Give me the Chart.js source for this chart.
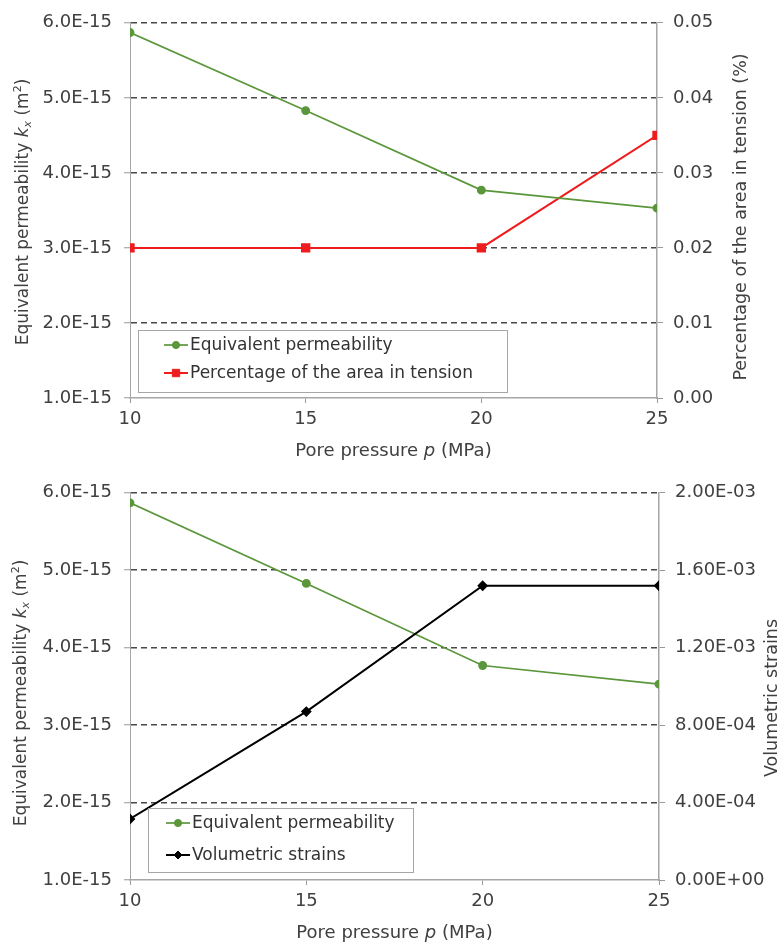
<!DOCTYPE html>
<html><head><meta charset="utf-8">
<script src="https://cdn.jsdelivr.net/npm/chart.js@4.4.1/dist/chart.umd.min.js"></script>
<style>
html,body{margin:0;padding:0;background:#fff;}
#wrap{position:relative;width:780px;height:946px;overflow:hidden;background:#fff;}
canvas{position:absolute;left:0;}
#c1{top:0;} #c2{top:470px;}
</style></head><body>
<div id="wrap"><canvas id="c1" width="780" height="470"></canvas><canvas id="c2" width="780" height="476"></canvas></div>
<script>
// ---- data ----
const porePressure = [10, 15, 20, 25];
const permeability = [5.87e-15, 4.83e-15, 3.77e-15, 3.53e-15];
const tensionPct = [0.02, 0.02, 0.02, 0.035];
const volStrain = [3.15e-4, 8.7e-4, 1.52e-3, 1.52e-3];
const xTicks = [10, 15, 20, 25];
const permTicks = [1e-15, 2e-15, 3e-15, 4e-15, 5e-15, 6e-15];
const pctTicks = [0, 0.01, 0.02, 0.03, 0.04, 0.05];
const strainTicks = [0, 4e-4, 8e-4, 1.2e-3, 1.6e-3, 2e-3];
const seriesNames = ['Equivalent permeability', 'Percentage of the area in tension', 'Volumetric strains'];

const FONT = 'DejaVu Sans';
const TXT = '#404040';
const GREEN = '#5a963a', RED = '#ee1c1c', BLACK = '#000000';
const AXIS = '#a6a6a6';

const fmtPerm = v => v.toExponential(1).toUpperCase();
const fmtPct = v => v.toFixed(2);
const fmtStrain = v => { const p = v.toExponential(2).split('e'); const n = parseInt(p[1], 10); return p[0] + 'E' + (n < 0 ? '-' : '+') + String(Math.abs(n)).padStart(2, '0'); };
const pts = (ys) => porePressure.map((x, i) => ({x: x, y: ys[i]}));
const setTicks = arr => (s => { s.ticks = arr.map(v => ({value: v})); });

function drawSegs(ctx, segs, cx, cy, rot) {
  ctx.save();
  ctx.translate(cx, cy);
  if (rot) ctx.rotate(rot);
  let total = 0;
  segs.forEach(s => { ctx.font = s.f; s.w = ctx.measureText(s.t).width; total += s.w; });
  let x = -total / 2;
  ctx.textAlign = 'left'; ctx.textBaseline = 'alphabetic'; ctx.fillStyle = TXT;
  segs.forEach(s => { ctx.font = s.f; ctx.fillText(s.t, x, 6 + (s.dy || 0)); x += s.w; });
  ctx.restore();
}

function marker(ctx, style, x, y, r, color) {
  ctx.save(); ctx.fillStyle = color; ctx.strokeStyle = color; ctx.lineWidth = 1;
  ctx.beginPath();
  if (style === 'circle') ctx.arc(x, y, r, 0, Math.PI * 2);
  else if (style === 'rect') { const s = r * Math.SQRT1_2; ctx.rect(x - s, y - s, 2 * s, 2 * s); }
  else { ctx.moveTo(x, y - r); ctx.lineTo(x + r, y); ctx.lineTo(x, y + r); ctx.lineTo(x - r, y); ctx.closePath(); }
  ctx.fill(); ctx.stroke(); ctx.restore();
}

const decor = {
  id: 'decor',
  afterDraw(chart, args, o) {
    const ctx = chart.ctx;
    const ca = chart.chartArea;
    // left title
    drawSegs(ctx, [
      {t: 'Equivalent permeability ', f: '17px "' + FONT + '"'},
      {t: 'k', f: 'italic 17px "' + FONT + '"'},
      {t: 'x', f: 'italic 11px "' + FONT + '"', dy: 3},
      {t: ' (m', f: '17px "' + FONT + '"'},
      {t: '2', f: '11px "' + FONT + '"', dy: -7},
      {t: ')', f: '17px "' + FONT + '"'}
    ], o.leftX, o.leftY, -Math.PI / 2);
    // right title
    drawSegs(ctx, [{t: o.rightTitle, f: '17.5px "' + FONT + '"'}], o.rightX, o.rightY, -Math.PI / 2);
    // x title
    drawSegs(ctx, [
      {t: 'Pore pressure ', f: '18px "' + FONT + '"'},
      {t: 'p', f: 'italic 18px "' + FONT + '"'},
      {t: ' (MPa)', f: '18px "' + FONT + '"'}
    ], (ca.left + ca.right) / 2, o.xTitleY, 0);
    // legend box
    const L = o.legend;
    ctx.save();
    ctx.fillStyle = '#fff'; ctx.fillRect(L.x1, L.y1, L.x2 - L.x1, L.y2 - L.y1);
    ctx.strokeStyle = AXIS; ctx.lineWidth = 1;
    ctx.strokeRect(L.x1 + 0.5, L.y1 + 0.5, L.x2 - L.x1, L.y2 - L.y1);
    chart.data.datasets.forEach((ds, i) => {
      const y = L.rows[i];
      ctx.strokeStyle = ds.borderColor; ctx.lineWidth = ds.borderWidth;
      ctx.beginPath(); ctx.moveTo(L.lx1, y); ctx.lineTo(L.lx2, y); ctx.stroke();
      marker(ctx, ds.pointStyle, (L.lx1 + L.lx2) / 2, y, ds.pointRadius, ds.borderColor);
      ctx.fillStyle = '#333'; ctx.font = '17px "' + FONT + '"';
      ctx.textAlign = 'left'; ctx.textBaseline = 'middle';
      ctx.fillText(ds.label, L.tx, y + 1);
    });
    ctx.restore();
  }
};

function yLeft() {
  return {
    type: 'linear', position: 'left', min: 1e-15, max: 6e-15,
    afterBuildTicks: setTicks(permTicks),
    afterFit: s => { s.width = 130; },
    ticks: {callback: v => fmtPerm(v), color: TXT, font: {family: FONT, size: 18}, padding: 12},
    grid: {
      color: c => (c.tick && c.tick.value <= 1.01e-15) ? 'rgba(0,0,0,0)' : '#484848',
      lineWidth: 1.5, drawTicks: true, tickLength: 6, tickColor: '#999', tickBorderDash: [], tickWidth: 1
    },
    border: {display: true, color: AXIS, width: 1, dash: [6, 4]}
  };
}
function yRight(min, max, ticks, fmt, w) {
  return {
    type: 'linear', position: 'right', min: min, max: max,
    afterBuildTicks: setTicks(ticks),
    afterFit: s => { s.width = w; },
    ticks: {callback: v => fmt(v), color: TXT, font: {family: FONT, size: 18}, padding: 10},
    grid: {drawOnChartArea: false, drawTicks: true, tickLength: 6, tickColor: '#999', color: '#999'},
    border: {display: true, color: AXIS, width: 1.5}
  };
}
function xAxis(h) {
  return {
    type: 'linear', position: 'bottom', min: 10, max: 25,
    afterBuildTicks: setTicks(xTicks),
    afterFit: s => { s.height = h; },
    ticks: {color: TXT, font: {family: FONT, size: 18}, padding: 6},
    grid: {drawOnChartArea: false, drawTicks: true, tickLength: 5, tickColor: '#999', color: '#999'},
    border: {display: true, color: AXIS, width: 1.5}
  };
}

const common = {
  responsive: false, animation: false, devicePixelRatio: 1,
  elements: {line: {tension: 0}},
  plugins: {legend: {display: false}, tooltip: {enabled: false}}
};

new Chart(document.getElementById('c1'), {
  type: 'line',
  data: {datasets: [
    {label: seriesNames[0], data: pts(permeability), yAxisID: 'y', borderColor: GREEN, backgroundColor: GREEN, borderWidth: 1.7, pointStyle: 'circle', pointRadius: 3.6, order: 1},
    {label: seriesNames[1], data: pts(tensionPct), yAxisID: 'y1', borderColor: RED, backgroundColor: RED, borderWidth: 2, pointStyle: 'rect', pointRadius: 5.2, order: 2}
  ]},
  options: Object.assign({}, common, {
    layout: {padding: {top: 19, left: 0, right: 0, bottom: 0}},
    scales: {x: xAxis(72), y: yLeft(), y1: yRight(0, 0.05, pctTicks, fmtPct, 123)},
    plugins: Object.assign({}, common.plugins, {decor: {
      leftX: 22, leftY: 212, rightX: 740, rightY: 217, xTitleY: 450,
      rightTitle: 'Percentage of the area in tension (%)',
      legend: {x1: 138, y1: 330, x2: 507, y2: 392, rows: [345, 373], lx1: 164, lx2: 188, tx: 190}
    }})
  }),
  plugins: [decor]
});

new Chart(document.getElementById('c2'), {
  type: 'line',
  data: {datasets: [
    {label: seriesNames[0], data: pts(permeability), yAxisID: 'y', borderColor: GREEN, backgroundColor: GREEN, borderWidth: 1.7, pointStyle: 'circle', pointRadius: 3.6, order: 2},
    {label: seriesNames[2], data: pts(volStrain), yAxisID: 'y1', borderColor: BLACK, backgroundColor: BLACK, borderWidth: 2, pointStyle: 'rectRot', pointRadius: 4, order: 1}
  ]},
  options: Object.assign({}, common, {
    layout: {padding: {top: 22, left: 0, right: 0, bottom: 0}},
    scales: {x: xAxis(66), y: yLeft(), y1: yRight(0, 2e-3, strainTicks, fmtStrain, 121)},
    plugins: Object.assign({}, common.plugins, {decor: {
      leftX: 20, leftY: 223, rightX: 771, rightY: 228, xTitleY: 462,
      rightTitle: 'Volumetric strains',
      legend: {x1: 148, y1: 338, x2: 413, y2: 402, rows: [353, 385], lx1: 166, lx2: 190, tx: 192}
    }})
  }),
  plugins: [decor]
});
</script>
</body></html>
